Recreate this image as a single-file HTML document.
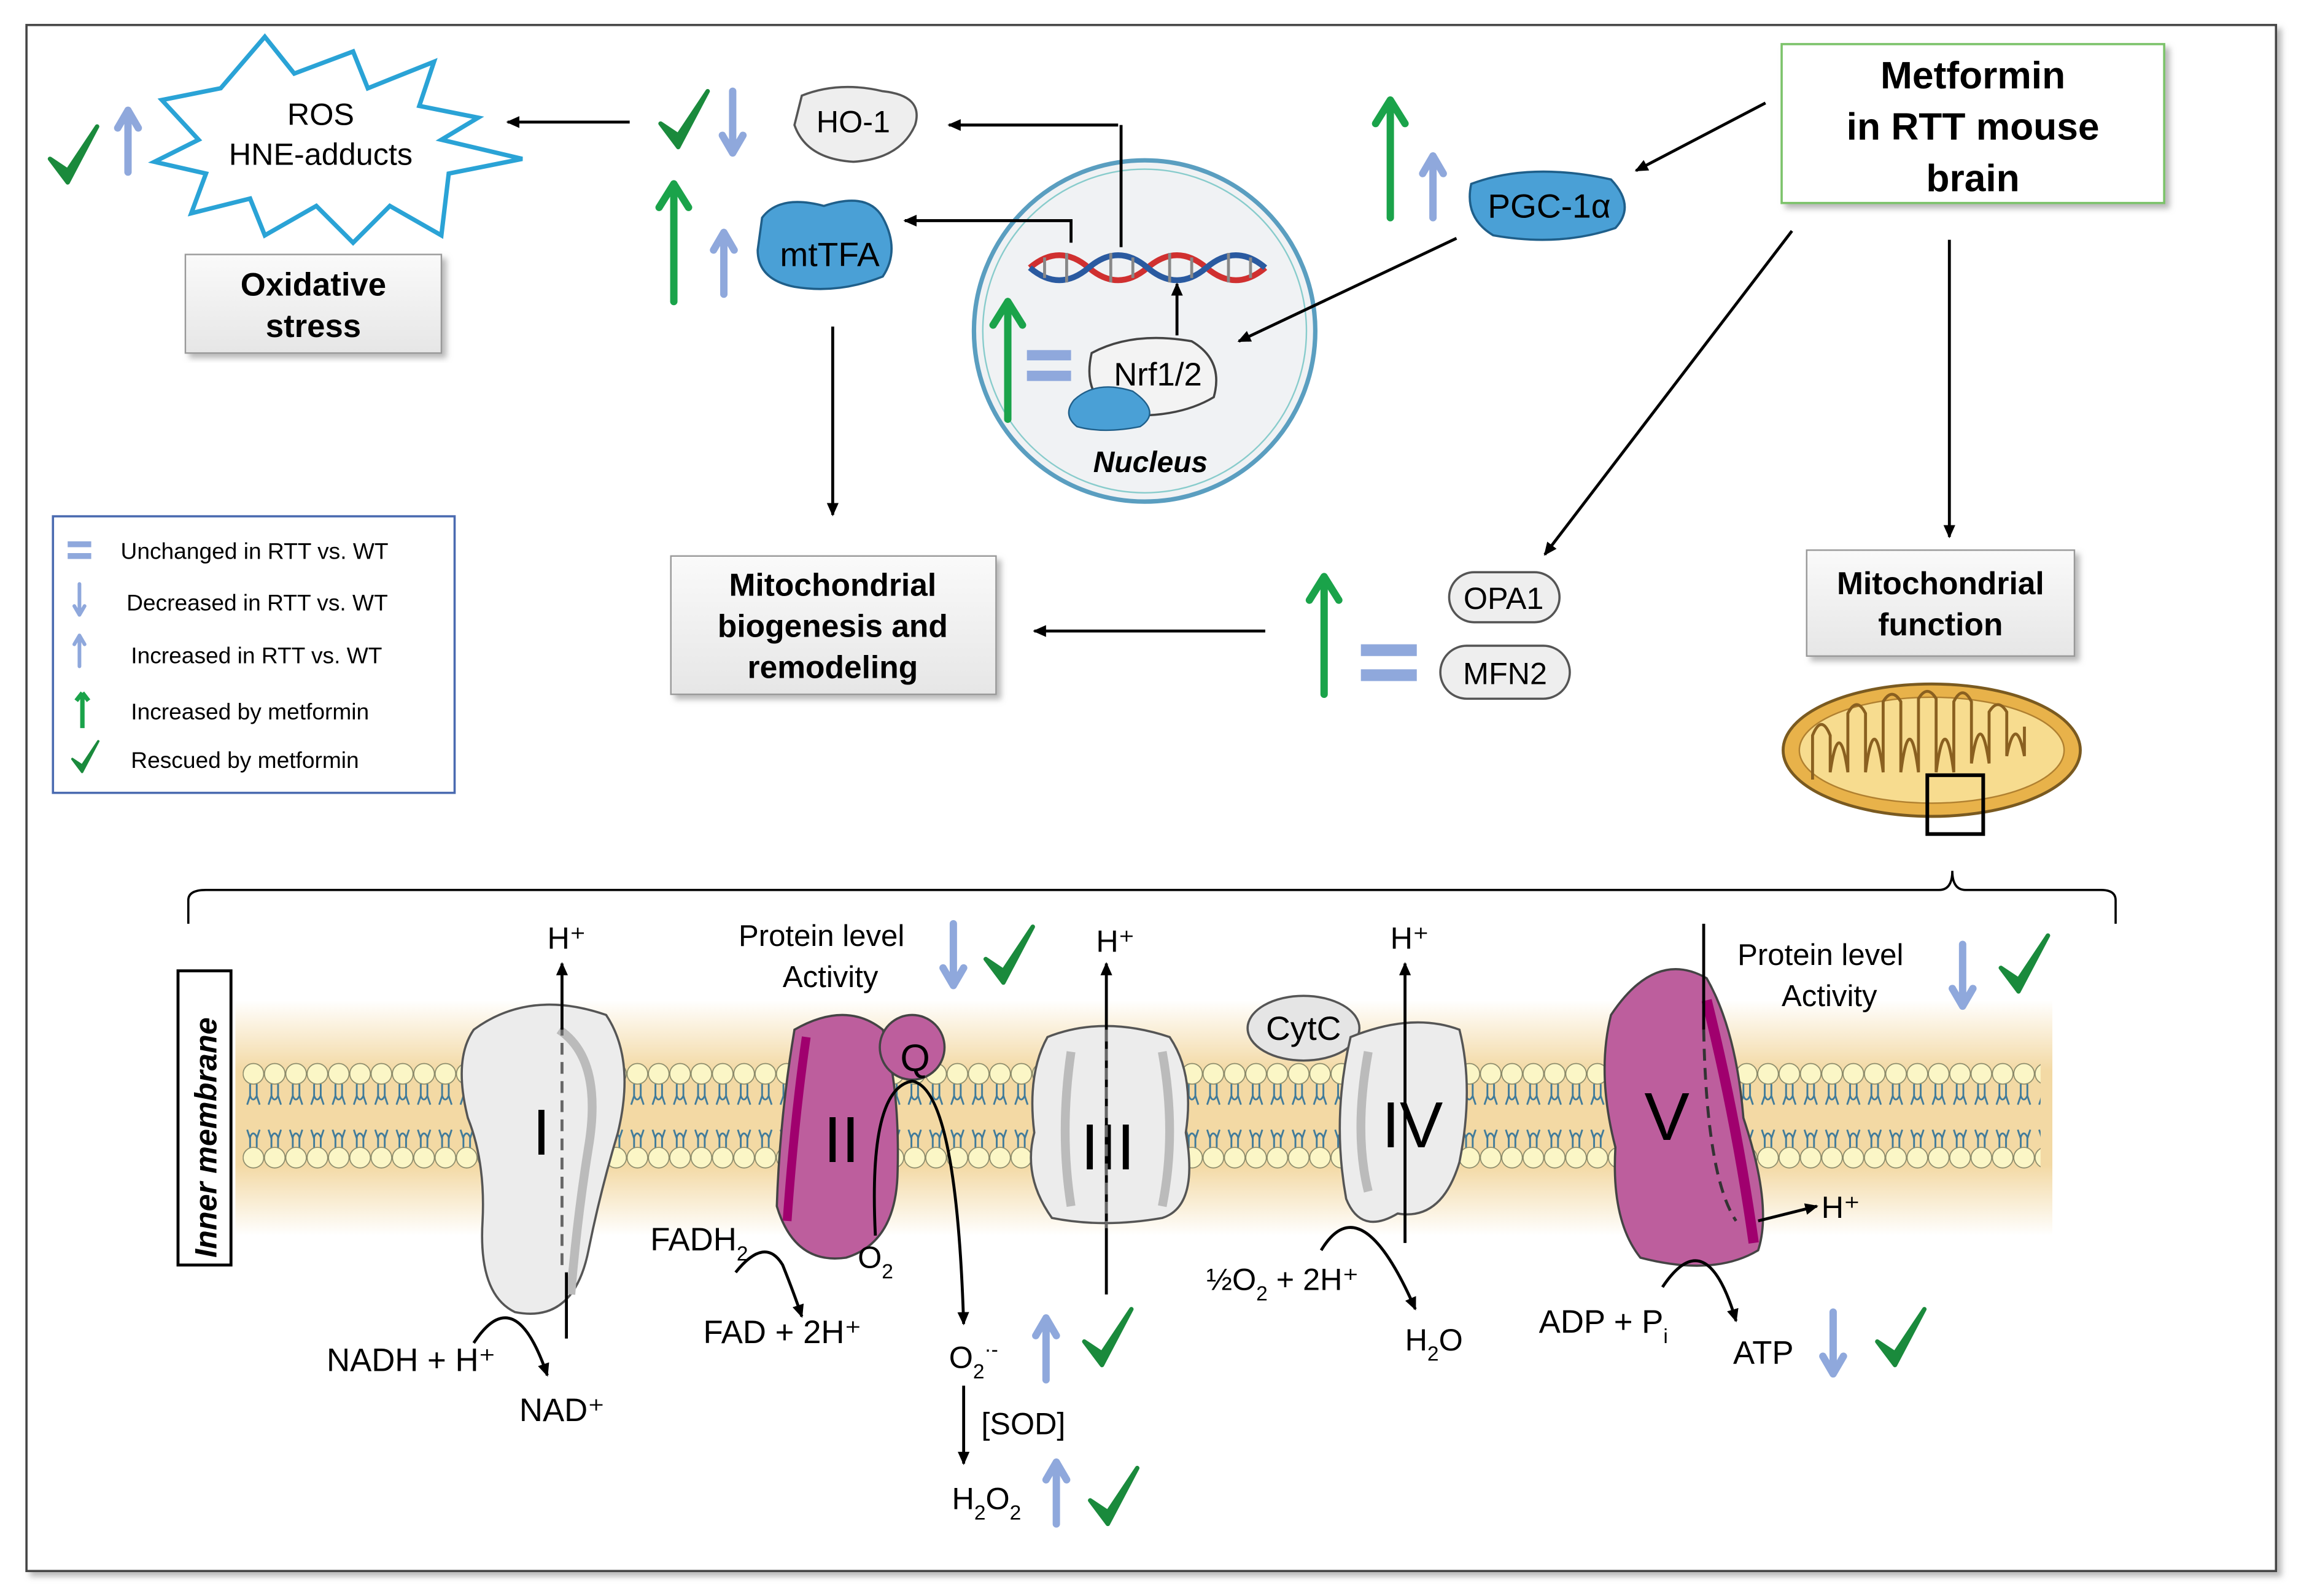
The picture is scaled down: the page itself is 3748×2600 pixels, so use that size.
<!DOCTYPE html>
<html><head><meta charset="utf-8"><style>
html,body{margin:0;padding:0;background:#fff}
svg{display:block}
text{font-family:"Liberation Sans",sans-serif}
</style></head><body>
<svg width="3748" height="2600" viewBox="0 0 1564 1085" preserveAspectRatio="none" xmlns="http://www.w3.org/2000/svg">
<defs>
<marker id="ah" markerWidth="10" markerHeight="10" refX="8" refY="5" orient="auto" markerUnits="userSpaceOnUse"><path d="M0,1 L9,5 L0,9 z" fill="#000"/></marker>
<linearGradient id="band" x1="0" y1="0" x2="0" y2="1"><stop offset="0" stop-color="#fff"/><stop offset="0.3" stop-color="#f3d9a4"/><stop offset="0.7" stop-color="#f3d9a4"/><stop offset="1" stop-color="#fff"/></linearGradient>
<linearGradient id="box" x1="0" y1="0" x2="0" y2="1"><stop offset="0" stop-color="#fafafa"/><stop offset="1" stop-color="#e6e6e6"/></linearGradient>
<pattern id="lip" x="165" y="718" width="14.5" height="82" patternUnits="userSpaceOnUse">
<circle cx="7.25" cy="12" r="7" fill="#fbf6c6" stroke="#8a8a6a" stroke-width="0.7"/>
<path d="M5,19 v8 q2,5 4.5,0 v-8 M5,27 l-2,6 M9.5,27 l2,6 M5,56 l-2,-6 M9.5,56 l2,-6 M5,63 v-8 q2,-5 4.5,0 v8" stroke="#3f7a9a" stroke-width="1.2" fill="none"/>
<circle cx="7.25" cy="69" r="7" fill="#fbf6c6" stroke="#8a8a6a" stroke-width="0.7"/>
</pattern>
<g id="bu"><path d="M0,-22 L-7,-10 M0,-22 L7,-10 M0,-22 V20" stroke="#8fa8dc" stroke-width="5" fill="none" stroke-linecap="round"/></g>
<g id="bd"><path d="M0,22 L-7,10 M0,22 L7,10 M0,22 V-20" stroke="#8fa8dc" stroke-width="5" fill="none" stroke-linecap="round"/></g>
<g id="gu"><path d="M0,-40 L-10,-24 M0,-40 L10,-24 M0,-40 V40" stroke="#1aa34a" stroke-width="5" fill="none" stroke-linecap="round"/></g>
<g id="ck"><path d="M-16,0 L-4,16 L16,-22 L-4,8 z" fill="#1a8a3c" stroke="#1a8a3c" stroke-width="3" stroke-linejoin="round"/></g>
<filter id="sh"><feDropShadow dx="3" dy="3" stdDeviation="2" flood-color="#888" flood-opacity="0.6"/></filter>
</defs>
<rect width="1564" height="1085" fill="#fff"/>
<rect x="18" y="17" width="1529" height="1051" fill="#fff" stroke="#444" stroke-width="1.5" filter="url(#sh)"/>

<path d="M110,68 L150,60 L180,25 L200,50 L240,35 L250,60 L295,42 L285,72 L325,80 L300,95 L355,108 L305,118 L300,160 L265,140 L240,165 L215,140 L180,160 L170,135 L130,145 L140,118 L105,110 L135,95 z" fill="#fff" stroke="#2aa3d6" stroke-width="3"/>
<text x="218" y="85" font-size="21" text-anchor="middle">ROS</text>
<text x="218" y="112" font-size="21" text-anchor="middle">HNE-adducts</text>
<use href="#ck" x="50" y="108"/><use href="#bu" x="87" y="97"/>
<rect x="126" y="173" width="174" height="67" fill="url(#box)" stroke="#999" filter="url(#sh)"/>
<text x="213" y="201" font-size="22" font-weight="bold" text-anchor="middle">Oxidative</text>
<text x="213" y="229" font-size="22" font-weight="bold" text-anchor="middle">stress</text>
<line x1="428" y1="83" x2="345" y2="83" stroke="#000" stroke-width="2" marker-end="url(#ah)"/>

<use href="#ck" x="465" y="84"/><use href="#bd" x="498" y="82"/>
<path d="M545,65 Q570,55 600,62 Q628,65 622,85 Q612,108 580,110 Q548,108 540,85 z" fill="#eee" stroke="#555" stroke-width="1.5"/>
<text x="580" y="90" font-size="21" text-anchor="middle">HO-1</text>
<use href="#gu" x="458" y="165"/><use href="#bu" x="492" y="180"/>
<path d="M518,148 Q530,132 560,140 Q590,130 600,148 Q612,170 600,188 Q570,200 540,195 Q515,190 515,170 z" fill="#4aa0d6" stroke="#1f5f8a" stroke-width="1.5"/>
<text x="564" y="181" font-size="23" text-anchor="middle">mtTFA</text>

<circle cx="778" cy="225" r="116" fill="#f0f2f4" stroke="#5a9ec0" stroke-width="3"/>
<circle cx="778" cy="225" r="110" fill="none" stroke="#8cc" stroke-width="1"/>
<path d="M700,182 Q720,165 740,182 T780,182 T820,182 T860,182" stroke="#d03030" stroke-width="4" fill="none"/>
<path d="M700,182 Q720,199 740,182 T780,182 T820,182 T860,182" stroke="#2a5aa0" stroke-width="4" fill="none"/>
<path d="M710,175 v14 M725,172 v20 M755,172 v20 M770,175 v14 M795,172 v20 M810,175 v14 M835,172 v20 M850,175 v14" stroke="#888" stroke-width="2"/>
<path d="M760,85 H645" stroke="#000" stroke-width="2" fill="none" marker-end="url(#ah)"/>
<line x1="762" y1="168" x2="762" y2="85" stroke="#000" stroke-width="2"/>
<path d="M728,165 V150 H615" stroke="#000" stroke-width="2" fill="none" marker-end="url(#ah)"/>
<line x1="800" y1="228" x2="800" y2="193" stroke="#000" stroke-width="2" marker-end="url(#ah)"/>
<path d="M742,240 Q770,225 810,232 Q832,245 825,270 Q800,285 760,282 Q735,270 742,240 z" fill="#f3f3f3" stroke="#444" stroke-width="1.5"/>
<path d="M730,272 Q745,258 770,266 Q790,280 775,290 Q750,295 732,290 Q722,282 730,272 z" fill="#4aa0d6" stroke="#1f5f8a"/>
<text x="787" y="262" font-size="22" text-anchor="middle">Nrf1/2</text>
<text x="782" y="321" font-size="20" font-weight="bold" font-style="italic" text-anchor="middle">Nucleus</text>
<use href="#gu" x="685" y="245"/>
<rect x="698" y="238" width="30" height="7" fill="#8fa8dc"/><rect x="698" y="252" width="30" height="7" fill="#8fa8dc"/>

<use href="#gu" x="945" y="108"/><use href="#bu" x="974" y="128"/>
<path d="M1000,125 Q1040,110 1095,122 Q1112,140 1098,155 Q1060,168 1015,160 Q995,148 1000,125 z" fill="#4aa0d6" stroke="#1f5f8a" stroke-width="1.5"/>
<text x="1053" y="148" font-size="23" text-anchor="middle">PGC-1α</text>
<line x1="990" y1="162" x2="842" y2="232" stroke="#000" stroke-width="2" marker-end="url(#ah)"/>

<rect x="1211" y="30" width="260" height="108" fill="#fff" stroke="#7cc36a" stroke-width="1.5" filter="url(#sh)"/>
<text x="1341" y="60" font-size="26" font-weight="bold" text-anchor="middle">Metformin</text>
<text x="1341" y="95" font-size="26" font-weight="bold" text-anchor="middle">in RTT mouse</text>
<text x="1341" y="130" font-size="26" font-weight="bold" text-anchor="middle">brain</text>
<line x1="1200" y1="70" x2="1112" y2="116" stroke="#000" stroke-width="2" marker-end="url(#ah)"/>
<line x1="1218" y1="157" x2="1050" y2="377" stroke="#000" stroke-width="2" marker-end="url(#ah)"/>
<line x1="1325" y1="163" x2="1325" y2="365" stroke="#000" stroke-width="2" marker-end="url(#ah)"/>
<line x1="566" y1="222" x2="566" y2="350" stroke="#000" stroke-width="2" marker-end="url(#ah)"/>

<rect x="36" y="351" width="273" height="188" fill="#fff" stroke="#4a6ab0" stroke-width="1.5"/>
<rect x="46" y="368" width="16" height="4" fill="#8fa8dc"/><rect x="46" y="376" width="16" height="4" fill="#8fa8dc"/>
<text x="82" y="380" font-size="15.5">Unchanged in RTT vs. WT</text>
<use href="#bd" transform="translate(54,407) scale(0.5)"/>
<text x="86" y="415" font-size="15.5">Decreased in RTT vs. WT</text>
<use href="#bu" transform="translate(54,443) scale(0.5)"/>
<text x="89" y="451" font-size="15.5">Increased in RTT vs. WT</text>
<g transform="translate(56,483) scale(0.3)"><path d="M0,-40 L-14,-22 M0,-40 L14,-22 M0,-40 V40" stroke="#1aa34a" stroke-width="10" fill="none"/></g>
<text x="89" y="489" font-size="15.5">Increased by metformin</text>
<use href="#ck" transform="translate(58,516) scale(0.55)"/>
<text x="89" y="522" font-size="15.5">Rescued by metformin</text>

<rect x="456" y="378" width="221" height="94" fill="url(#box)" stroke="#999" filter="url(#sh)"/>
<text x="566" y="405" font-size="21.5" font-weight="bold" text-anchor="middle">Mitochondrial</text>
<text x="566" y="433" font-size="21.5" font-weight="bold" text-anchor="middle">biogenesis and</text>
<text x="566" y="461" font-size="21.5" font-weight="bold" text-anchor="middle">remodeling</text>
<line x1="860" y1="429" x2="703" y2="429" stroke="#000" stroke-width="2" marker-end="url(#ah)"/>
<use href="#gu" x="900" y="432"/>
<rect x="925" y="438" width="38" height="8" fill="#8fa8dc"/><rect x="925" y="455" width="38" height="8" fill="#8fa8dc"/>
<rect x="985" y="389" width="75" height="34" rx="17" fill="#eee" stroke="#555" stroke-width="1.5"/>
<text x="1022" y="414" font-size="21" text-anchor="middle">OPA1</text>
<rect x="979" y="439" width="88" height="36" rx="18" fill="#eee" stroke="#555" stroke-width="1.5"/>
<text x="1023" y="465" font-size="21" text-anchor="middle">MFN2</text>

<rect x="1228" y="374" width="182" height="72" fill="url(#box)" stroke="#999" filter="url(#sh)"/>
<text x="1319" y="404" font-size="21.5" font-weight="bold" text-anchor="middle">Mitochondrial</text>
<text x="1319" y="432" font-size="21.5" font-weight="bold" text-anchor="middle">function</text>
<ellipse cx="1313" cy="510" rx="101" ry="45" fill="#e8b24a" stroke="#7a5a20" stroke-width="2"/>
<ellipse cx="1313" cy="510" rx="90" ry="36" fill="#f7dc8f" stroke="#b08030"/>
<path d="M1232,530 V500 q6,-15 12,0 v25 q6,-40 12,0 v-40 q6,-12 12,0 v40 q6,-45 12,0 v-48 q6,-10 12,0 v48 q6,-45 12,0 v-50 q6,-10 12,0 v50 q6,-45 12,0 v-48 q6,-12 12,0 v42 q6,-40 12,0 v-35 q6,-10 12,0 v30 q6,-30 12,0 v-20" stroke="#8a6020" stroke-width="2" fill="none"/>
<rect x="1310" y="527" width="38" height="40" fill="none" stroke="#000" stroke-width="2.5"/>
<path d="M128,628 V612 Q128,605 140,605 H1318 Q1327,605 1327,592 Q1327,605 1336,605 H1428 Q1438,605 1438,612 V628" stroke="#000" stroke-width="1.5" fill="none"/>

<rect x="160" y="680" width="1235" height="160" fill="url(#band)"/>
<rect x="165" y="718" width="1222" height="82" fill="url(#lip)"/>
<rect x="121" y="660" width="36" height="200" fill="#fff" stroke="#000" stroke-width="2"/>
<text transform="translate(147,855) rotate(-90)" font-size="21" font-weight="bold" font-style="italic">Inner membrane</text>

<path d="M322,700 Q360,672 412,690 Q432,720 420,770 Q408,810 400,850 Q390,900 350,892 Q325,880 328,830 Q330,790 318,760 Q308,720 322,700 z" fill="#ececec" stroke="#555" stroke-width="1.5"/>
<path d="M380,700 Q410,720 400,780 Q392,830 388,880" stroke="#bbb" stroke-width="6" fill="none"/>
<text x="368" y="785" font-size="44" text-anchor="middle">I</text>
<line x1="382" y1="860" x2="382" y2="700" stroke="#666" stroke-width="2" stroke-dasharray="8,5"/>
<line x1="382" y1="700" x2="382" y2="655" stroke="#000" stroke-width="2" marker-end="url(#ah)"/>
<line x1="385" y1="910" x2="385" y2="865" stroke="#000" stroke-width="2"/>
<text x="372" y="645" font-size="21">H⁺</text>
<path d="M322,913 Q350,870 372,935" stroke="#000" stroke-width="2" fill="none" marker-end="url(#ah)"/>
<text x="222" y="932" font-size="22">NADH + H⁺</text>
<text x="353" y="966" font-size="22">NAD⁺</text>

<path d="M540,700 Q575,680 600,700 Q612,740 610,800 Q608,845 575,855 Q540,860 528,820 Q530,760 540,700 z" fill="#bd5e9d" stroke="#444" stroke-width="1.5"/>
<path d="M548,705 Q540,760 535,830" stroke="#a0006e" stroke-width="6" fill="none"/>
<circle cx="620" cy="712" r="22" fill="#bd5e9d" stroke="#444" stroke-width="1.5"/>
<text x="622" y="728" font-size="26" text-anchor="middle">Q</text>
<text x="572" y="790" font-size="44" text-anchor="middle">II</text>
<path d="M500,865 Q520,840 532,860 Q540,880 545,895" stroke="#000" stroke-width="2" fill="none" marker-end="url(#ah)"/>
<text x="442" y="850" font-size="22">FADH<tspan font-size="14" dy="7">2</tspan></text>
<text x="478" y="913" font-size="22">FAD + 2H⁺</text>
<path d="M595,840 Q590,740 620,735 Q650,740 655,900" stroke="#000" stroke-width="2" fill="none" marker-end="url(#ah)"/>
<text x="583" y="862" font-size="21">O<tspan font-size="14" dy="7">2</tspan></text>
<text x="645" y="930" font-size="21">O<tspan font-size="14" dy="7">2</tspan><tspan font-size="14" dy="-15">·-</tspan></text>
<use href="#bu" x="711" y="918"/><use href="#ck" x="753" y="912"/>
<line x1="655" y1="942" x2="655" y2="995" stroke="#000" stroke-width="2" marker-end="url(#ah)"/>
<text x="667" y="975" font-size="21">[SOD]</text>
<text x="647" y="1026" font-size="21">H<tspan font-size="14" dy="7">2</tspan><tspan dy="-7">O</tspan><tspan font-size="14" dy="7">2</tspan></text>
<use href="#bu" x="718" y="1016"/><use href="#ck" x="757" y="1020"/>
<text x="502" y="643" font-size="20.5">Protein level</text>
<text x="532" y="671" font-size="20.5">Activity</text>
<use href="#bd" x="648" y="648"/><use href="#ck" x="686" y="652"/>

<path d="M712,705 Q750,690 795,705 Q812,730 806,770 Q815,820 790,828 Q750,835 715,828 Q695,800 703,770 Q698,730 712,705 z" fill="#ececec" stroke="#555" stroke-width="1.5"/>
<path d="M728,715 Q720,770 728,820 M790,715 Q800,770 790,820" stroke="#bbb" stroke-width="6" fill="none"/>
<text x="753" y="795" font-size="44" text-anchor="middle">III</text>
<line x1="752" y1="880" x2="752" y2="655" stroke="#000" stroke-width="2" marker-end="url(#ah)"/>
<line x1="752" y1="700" x2="752" y2="835" stroke="#666" stroke-width="2" stroke-dasharray="8,5"/>
<text x="745" y="647" font-size="21">H⁺</text>

<ellipse cx="886" cy="699" rx="38" ry="22" fill="#e5e5e5" stroke="#555" stroke-width="1.5"/>
<text x="886" y="707" font-size="23" text-anchor="middle">CytC</text>
<path d="M918,705 Q960,688 992,700 Q1002,740 992,790 Q980,830 950,825 Q925,840 915,815 Q905,760 918,705 z" fill="#ececec" stroke="#555" stroke-width="1.5"/>
<path d="M930,715 Q920,770 930,810" stroke="#bbb" stroke-width="6" fill="none"/>
<text x="960" y="780" font-size="44" text-anchor="middle">IV</text>
<line x1="955" y1="845" x2="955" y2="655" stroke="#000" stroke-width="2" marker-end="url(#ah)"/>
<text x="945" y="645" font-size="21">H⁺</text>
<path d="M898,850 Q925,805 962,890" stroke="#000" stroke-width="2" fill="none" marker-end="url(#ah)"/>
<text x="820" y="877" font-size="21">½O<tspan font-size="14" dy="7">2</tspan><tspan dy="-7"> + 2H⁺</tspan></text>
<text x="955" y="918" font-size="21">H<tspan font-size="14" dy="7">2</tspan><tspan dy="-7">O</tspan></text>

<path d="M1095,690 Q1125,645 1160,665 Q1180,700 1185,760 Q1205,820 1195,850 Q1165,868 1115,855 Q1095,830 1098,780 Q1085,730 1095,690 z" fill="#bd5e9d" stroke="#444" stroke-width="1.5"/>
<path d="M1160,680 Q1180,760 1192,845" stroke="#a0006e" stroke-width="7" fill="none"/>
<text x="1133" y="775" font-size="46" text-anchor="middle">V</text>
<line x1="1158" y1="628" x2="1158" y2="700" stroke="#000" stroke-width="2"/>
<path d="M1158,700 Q1160,800 1180,830" stroke="#333" stroke-width="2" stroke-dasharray="8,5" fill="none"/>
<line x1="1195" y1="830" x2="1235" y2="820" stroke="#000" stroke-width="2" marker-end="url(#ah)"/>
<text x="1238" y="828" font-size="21">H⁺</text>
<path d="M1130,875 Q1160,830 1180,898" stroke="#000" stroke-width="2" fill="none" marker-end="url(#ah)"/>
<text x="1046" y="906" font-size="22">ADP + P<tspan font-size="14" dy="7">i</tspan></text>
<text x="1178" y="927" font-size="22">ATP</text>
<use href="#bd" x="1246" y="912"/><use href="#ck" x="1292" y="912"/>
<text x="1181" y="656" font-size="20.5">Protein level</text>
<text x="1211" y="684" font-size="20.5">Activity</text>
<use href="#bd" x="1334" y="662"/><use href="#ck" x="1376" y="658"/>
</svg>
</body></html>
